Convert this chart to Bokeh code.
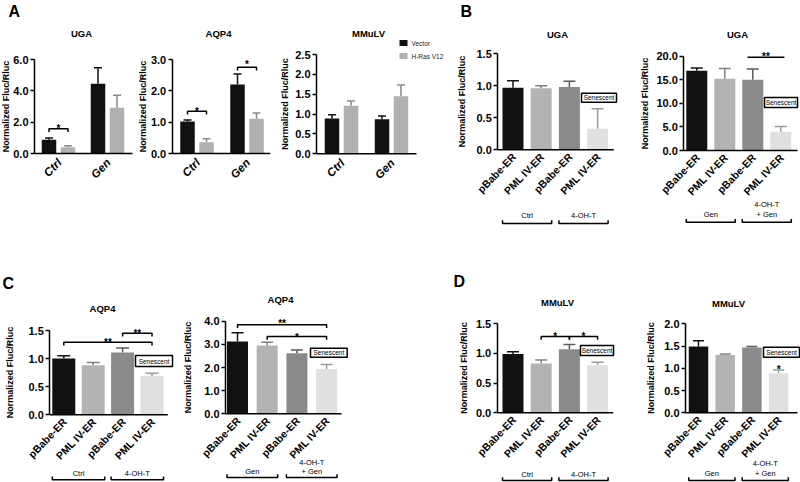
import math
from bokeh.plotting import figure
from bokeh.models import Range1d, FixedTicker, PrintfTickFormatter, ColumnDataSource
from bokeh.layouts import column, row
from bokeh.embed import file_html
from bokeh.resources import INLINE
from bokeh.core.properties import value
from bokeh.transform import dodge

FONT = "Liberation Sans"
ANG = math.radians(46)

# ---------------- data ----------------
a_groups = ["Ctrl", "Gen"]
a_series = ["Vector", "H-Ras V12"]

a_uga_vector = [0.88, 4.45]
a_uga_vector_err = [0.11, 1.02]
a_uga_hras = [0.40, 2.92]
a_uga_hras_err = [0.09, 0.80]

a_aqp4_vector = [1.02, 2.20]
a_aqp4_vector_err = [0.05, 0.34]
a_aqp4_hras = [0.36, 1.11]
a_aqp4_hras_err = [0.11, 0.18]

a_mmulv_vector = [0.89, 0.87]
a_mmulv_vector_err = [0.09, 0.08]
a_mmulv_hras = [1.21, 1.45]
a_mmulv_hras_err = [0.12, 0.28]

pml_labels = ["pBabe-ER", "PML IV-ER", "pBabe-ER", "PML IV-ER"]

b_uga_ctrl = [0.97, 0.96, 0.98, 0.33]
b_uga_ctrl_err = [0.11, 0.04, 0.09, 0.31]
b_uga_gen = [16.9, 15.2, 15.0, 4.0]
b_uga_gen_err = [0.6, 2.2, 2.3, 1.1]

c_aqp4_ctrl = [1.00, 0.88, 1.11, 0.69]
c_aqp4_ctrl_err = [0.05, 0.05, 0.08, 0.05]
c_aqp4_gen = [3.12, 2.95, 2.62, 1.94]
c_aqp4_gen_err = [0.38, 0.14, 0.14, 0.19]

d_mmulv_ctrl = [0.99, 0.83, 1.07, 0.80]
d_mmulv_ctrl_err = [0.04, 0.06, 0.08, 0.05]
d_mmulv_gen = [1.49, 1.30, 1.47, 0.89]
d_mmulv_gen_err = [0.13, 0.02, 0.02, 0.07]

ctrl_groups = [["Ctrl"], ["4-OH-T"]]
gen_groups = [["Gen"], ["4-OH-T", "+ Gen"]]

ticks_a_uga = [0, 2, 4, 6]
ticks_a_aqp4 = [0, 1, 2, 3]
ticks_a_mmulv = [0, 0.5, 1.0, 1.5, 2.0, 2.5]
ticks_15 = [0, 0.5, 1.0, 1.5]
ticks_20 = [0, 5, 10, 15, 20]
ticks_40 = [0, 1, 2, 3, 4]
ticks_d2 = [0, 0.5, 1.0, 1.5, 2.0]

# ---------------- styles ----------------
A_COLORS = ["#111111", "#b0b0b0"]
A_WHISK = ["#111111", "#8a8a8a"]
PML_COLORS = ["#111111", "#b3b3b3", "#8a8a8a", "#e0e0e0"]
PML_WHISK = ["#111111", "#808080", "#5a5a5a", "#9a9a9a"]

SP = {}


def setup(fx0, fx1, ftop, fbot, ax, y0, yT, T, ticks, off, sp, std):
    W = fx1 - fx0
    H = fbot - ftop
    sc = (y0 - yT) / T
    ys = -(fbot - y0) / sc
    ye = T + (yT - ftop) / sc
    xs = -(ax - fx0 + off) / sp
    xe = xs + W / sp
    p = figure(width=W, height=H, x_range=Range1d(xs, xe), y_range=Range1d(ys, ye),
               x_axis_location=None, y_axis_location="left", toolbar_location=None,
               output_backend="svg", title=None, tools="", min_border=0)
    p.extra_x_ranges = {"px": Range1d(fx0, fx1)}
    p.extra_y_ranges = {"py": Range1d(fbot, ftop)}
    p.outline_line_color = None
    p.grid.visible = False
    p.background_fill_color = "white"
    p.border_fill_color = "white"
    yax = p.yaxis[0]
    yax.fixed_location = -off / sp
    yax.bounds = (0, T)
    yax.ticker = FixedTicker(ticks=ticks)
    yax.formatter = PrintfTickFormatter(format="%.1f")
    yax.minor_tick_line_color = None
    yax.major_tick_in = 0
    yax.major_tick_out = 4
    yax.major_tick_line_width = 1.5
    yax.axis_line_width = 1.5
    yax.axis_line_color = "black"
    yax.major_tick_line_color = "black"
    yax.major_label_text_font = FONT
    yax.major_label_text_font_size = "11px"
    yax.major_label_text_font_style = "bold"
    yax.major_label_text_color = "black"
    yax.major_label_standoff = 2
    yax.axis_label = "Normalized Fluc/Rluc"
    yax.axis_label_text_font = FONT
    yax.axis_label_text_font_size = "9px"
    yax.axis_label_text_font_style = "bold"
    yax.axis_label_text_color = "black"
    yax.axis_label_standoff = std
    SP[p.id] = sp
    return p


def txt(p, x, y, s, size, style="normal", align="center", baseline="middle",
        color="black", xdata=False):
    kw = dict(y_range_name="py")
    if not xdata:
        kw["x_range_name"] = "px"
    p.text(x=[x], y=[y], text=[s], text_font=value(FONT), text_font_size=size,
           text_font_style=style, text_align=align, text_baseline=baseline,
           text_color=color, **kw)


def xaxis_line(p, ax, length):
    p.segment(x0=[ax], y0=[0], x1=[ax + length], y1=[0], x_range_name="px",
              line_color="black", line_width=1.5)


def grouped(p, groups, v1, e1, v2, e2, d_px, bw_px, cw_px):
    sp = SP[p.id]
    d = d_px / sp
    bw = bw_px / sp
    cw = cw_px / sp
    gi = list(range(len(groups)))
    for vals, errs, o, col, wc in [(v1, e1, -d, A_COLORS[0], A_WHISK[0]),
                                    (v2, e2, d, A_COLORS[1], A_WHISK[1])]:
        src = ColumnDataSource(dict(g=gi, top=vals, up=[v + e for v, e in zip(vals, errs)]))
        p.segment(x0=dodge("g", o), y0="top", x1=dodge("g", o), y1="up",
                  line_color=wc, line_width=1.5, source=src)
        p.segment(x0=dodge("g", o - cw / 2), y0="up", x1=dodge("g", o + cw / 2), y1="up",
                  line_color=wc, line_width=1.5, source=src)
        p.vbar(x=dodge("g", o), top="top", bottom=0, width=bw, fill_color=col,
               line_color=None, source=src)
    p.text(x=gi, y=[0] * len(gi), text=groups, angle=ANG, text_align="right",
           text_baseline="middle", y_offset=7, x_offset=1, text_font=value(FONT),
           text_font_size="11.5px", text_font_style="bold italic", text_color="black")
    return d


def four(p, vals, errs, bw_px, cw_px):
    sp = SP[p.id]
    bw = bw_px / sp
    cw = cw_px / sp
    idx = list(range(len(vals)))
    src = ColumnDataSource(dict(x=idx, top=vals, up=[v + e for v, e in zip(vals, errs)],
                                fc=PML_COLORS, wc=PML_WHISK, lab=pml_labels))
    p.segment(x0="x", y0="top", x1="x", y1="up", line_color="wc", line_width=1.5, source=src)
    p.segment(x0=dodge("x", -cw / 2), y0="up", x1=dodge("x", cw / 2), y1="up",
              line_color="wc", line_width=1.5, source=src)
    p.vbar(x="x", top="top", bottom=0, width=bw, fill_color="fc", line_color=None, source=src)
    p.text(x="x", y=0, text="lab", angle=ANG, text_align="right", text_baseline="middle",
           y_offset=5, x_offset=1, text_font=value(FONT), text_font_size="10.5px",
           text_font_style="bold", text_color="black", source=src)
    return bw


def star(p, x, sy, s):
    txt(p, x, sy + 4, s, "10px", "bold", baseline="alphabetic", xdata=True)


def sig(p, a, b, Y, s, sy, ticks=True):
    if ticks:
        xs, ys = [a, a, b, b], [Y + 3.3, Y, Y, Y + 3.3]
    else:
        xs, ys = [a, b], [Y, Y]
    p.line(x=xs, y=ys, y_range_name="py", line_color="black", line_width=1.5)
    star(p, (a + b) / 2, sy, s)


def groups_below(p, bw, groups, Yb, Yt, Yt2=None):
    for k, labs in enumerate(groups):
        a = 2 * k - bw / 2
        b = 2 * k + 1 + bw / 2
        p.line(x=[a, a, b, b], y=[Yb - 3.3, Yb, Yb, Yb - 3.3], y_range_name="py",
               line_color="black", line_width=1.5)
        c = (a + b) / 2
        if len(labs) == 1:
            txt(p, c, Yt, labs[0], "7.5px", xdata=True)
        else:
            txt(p, c, Yt2, labs[0], "7.5px", xdata=True)
            txt(p, c, Yt, labs[1], "7.5px", xdata=True)


def senescent(p, l, r, t, b):
    p.quad(left=[l], right=[r], top=[t], bottom=[b], x_range_name="px", y_range_name="py",
           fill_color="white", line_color="black", line_width=1.5)
    txt(p, (l + r) / 2, (t + b) / 2, "Senescent", "6.5px")


# ---------------- row 1 ----------------
R1T, R1B = 0, 260

pA1 = setup(0, 138, R1T, R1B, 34, 153, 59, 6, ticks_a_uga, 24, 49, -1)
d = grouped(pA1, a_groups, a_uga_vector, a_uga_vector_err, a_uga_hras, a_uga_hras_err, 9.5, 14.5, 8)
xaxis_line(pA1, 34, 98)
txt(pA1, 81, 33, "UGA", "9.5px", "bold")
txt(pA1, 8, 2, "A", "16px", "bold", align="left", baseline="top")
sig(pA1, -d, d, 128.3, "*", 124)

pA2 = setup(138, 280, R1T, R1B, 171.7, 153, 59, 3, ticks_a_aqp4, 24.8, 50, 0)
d = grouped(pA2, a_groups, a_aqp4_vector, a_aqp4_vector_err, a_aqp4_hras, a_aqp4_hras_err, 9.5, 14.5, 8)
xaxis_line(pA2, 171.7, 98)
txt(pA2, 218, 33, "AQP4", "9.5px", "bold")
sig(pA2, -d, d, 110.7, "*", 106.7)
sig(pA2, 1 - d, 1 + d, 66.7, "*", 60)

pA3 = setup(280, 456, R1T, R1B, 316, 153.3, 54, 2.5, ticks_a_mmulv, 25, 50, 2)
grouped(pA3, a_groups, a_mmulv_vector, a_mmulv_vector_err, a_mmulv_hras, a_mmulv_hras_err, 9.5, 14.5, 8)
xaxis_line(pA3, 316, 100)
txt(pA3, 368, 33, "MMuLV", "9.5px", "bold")
for k, (name, col) in enumerate(zip(a_series, A_COLORS)):
    yy = 42.5 + 13 * k
    pA3.quad(left=[399], right=[407], top=[yy - 3], bottom=[yy + 3], x_range_name="px",
             y_range_name="py", fill_color=col, line_color=None)
    txt(pA3, 411, yy, name, "6.5px", align="left", color="#222222")

pB1 = setup(456, 640, R1T, R1B, 497.3, 149.3, 53.3, 1.5, ticks_15, 15.2, 28.2, 6)
bw = four(pB1, b_uga_ctrl, b_uga_ctrl_err, 21, 12)
xaxis_line(pB1, 497.3, 116)
txt(pB1, 557, 34, "UGA", "9.5px", "bold")
txt(pB1, 460, 2, "B", "16px", "bold", align="left", baseline="top")
senescent(pB1, 581, 616, 92.7, 101.7)
groups_below(pB1, bw, ctrl_groups, 223, 215)

pB2 = setup(640, 800, R1T, R1B, 683.3, 150, 55.7, 20, ticks_20, 13, 28, 3)
bw = four(pB2, b_uga_gen, b_uga_gen_err, 21, 12)
xaxis_line(pB2, 683.3, 113.7)
txt(pB2, 737, 34, "UGA", "9.5px", "bold")
sig(pB2, 2 - 0.19, 3 + 0.13, 56.7, "**", 52, ticks=False)
senescent(pB2, 764, 797, 97, 107)
groups_below(pB2, bw, gen_groups, 221.7, 214, 204)

# ---------------- row 2 ----------------
R2T, R2B = 260, 482

pC1 = setup(0, 180, R2T, R2B, 49.3, 414.3, 330, 1.5, ticks_15, 14, 29.4, 10)
bw = four(pC1, c_aqp4_ctrl, c_aqp4_ctrl_err, 23, 13)
xaxis_line(pC1, 49.3, 118)
txt(pC1, 102, 308, "AQP4", "9.5px", "bold")
txt(pC1, 2, 274, "C", "16px", "bold", align="left", baseline="top")
sig(pC1, 0, 3, 341.7, "**", 338)
sig(pC1, 2, 3, 332.7, "**", 329)
senescent(pC1, 135, 172, 355, 366)
groups_below(pC1, bw, ctrl_groups, 479.3, 473)

pC2 = setup(180, 452, R2T, R2B, 225, 413.3, 320.7, 4, ticks_40, 12, 29.7, 8)
bw = four(pC2, c_aqp4_gen, c_aqp4_gen_err, 21, 12)
xaxis_line(pC2, 225, 116)
txt(pC2, 280, 299.3, "AQP4", "9.5px", "bold")
sig(pC2, 0, 3, 324.3, "**", 319.3)
sig(pC2, 1, 3, 336, "*", 333)
senescent(pC2, 310, 346.7, 347.7, 356.7)
groups_below(pC2, bw, gen_groups, 477, 471, 461.7)

pD1 = setup(452, 644, R2T, R2B, 496.7, 412.3, 323.3, 1.5, ticks_15, 15.8, 28.2, 4)
bw = four(pD1, d_mmulv_ctrl, d_mmulv_ctrl_err, 21, 12)
xaxis_line(pD1, 496.7, 116)
txt(pD1, 557, 301.7, "MMuLV", "9.5px", "bold")
txt(pD1, 453, 272, "D", "16px", "bold", align="left", baseline="top")
sig(pD1, 1, 2, 336, "*", 331.7)
sig(pD1, 2, 3, 336, "*", 331.7)
senescent(pD1, 580, 613, 345, 355)
groups_below(pD1, bw, ctrl_groups, 480, 474)

pD2 = setup(644, 800, R2T, R2B, 685, 412.3, 323.3, 2, ticks_d2, 13, 26.7, 5)
bw = four(pD2, d_mmulv_gen, d_mmulv_gen_err, 19.5, 11)
xaxis_line(pD2, 685, 112)
txt(pD2, 728, 302.7, "MMuLV", "9.5px", "bold")
star(pD2, 3, 365, "*")
senescent(pD2, 763, 799, 346.7, 356.7)
groups_below(pD2, bw, gen_groups, 480, 473.3, 462.7)

layout = column(row(pA1, pA2, pA3, pB1, pB2), row(pC1, pC2, pD1, pD2))
open("out.html", "w").write(file_html(layout, INLINE))
